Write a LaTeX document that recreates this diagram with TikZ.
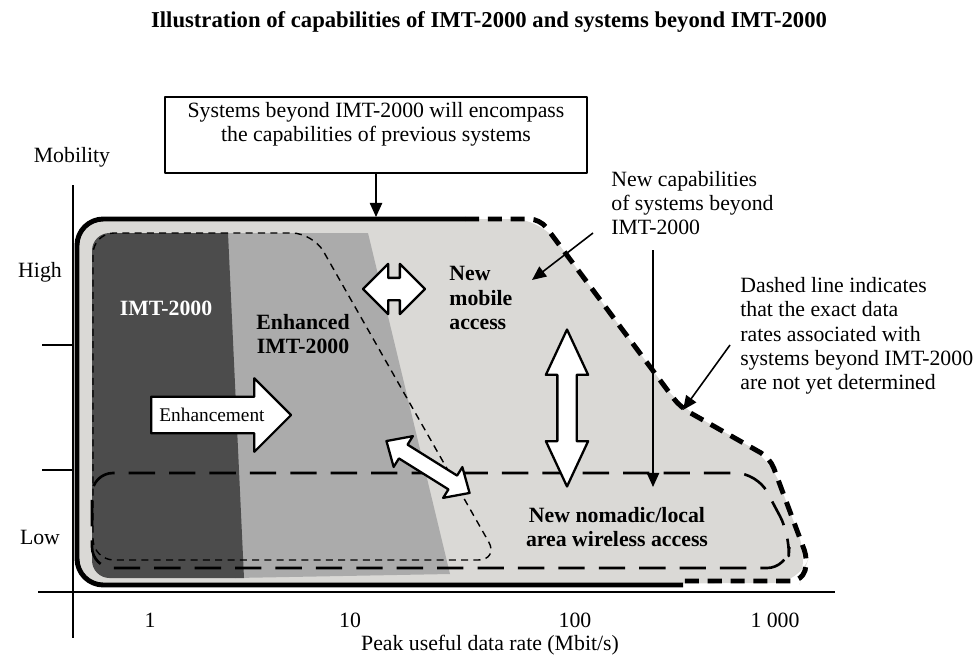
\documentclass[tikz,border=0pt]{standalone}
\usepackage{fontspec}
\setmainfont{Liberation Serif}
\usepackage{tikz}
\usetikzlibrary{arrows.meta,shapes.arrows}

\definecolor{darkzone}{HTML}{4C4C4C}
\definecolor{midzone}{HTML}{ABABAB}
\definecolor{lightzone}{HTML}{DAD9D6}

\begin{document}
\begin{tikzpicture}[x=0.02cm, y=-0.02cm, line join=round,
  lbl/.style={font=\fontsize{12.4}{13.8}\selectfont, inner sep=0pt},
  blbl/.style={font=\fontsize{12.4}{13.8}\selectfont\bfseries, inner sep=0pt},
  axis/.style={line width=1pt},
  outline/.style={line width=2.8pt},
  outdash/.style={line width=2.8pt, dash pattern=on 8pt off 5pt},
  thindash/.style={line width=0.8pt, dash pattern=on 4pt off 3pt},
  longdash/.style={line width=1.5pt, dash pattern=on 15pt off 8pt},
  pointer/.style={-{Triangle[length=8pt,width=7pt]}, line width=0.9pt},
  fatarrow/.style={draw, fill=white, line width=1.3pt}]

  \useasboundingbox (0,0) rectangle (979,656);

  % shaded zones
  \fill[lightzone, rounded corners=15] (77,219) -- (540,219) -- (680,407) -- (770,458) -- (808,560) -- (800,583) -- (77,585) -- cycle;
  \fill[midzone] (220,233) -- (368,233) -- (450,574) -- (235,578) -- cycle;
  \fill[darkzone] (228,233) [rounded corners=10] -- (92,233) -- (92,578) [sharp corners] -- (244,578) -- cycle;

  % capability outlines
  \draw[outline, rounded corners=15] (465,219) -- (77,219) -- (77,585) -- (683,585);
  \draw[outdash, rounded corners=6] (465,219) -- (540,219) -- (680,407) -- (770,458) -- (808,560) -- (802,581) -- (683,581);
  \draw[thindash, rounded corners=12] (200,233) -- (313,233) -- (499,560) -- (93,560) -- (93,233) -- cycle;
  \draw[longdash, rounded corners=12] (400,473) -- (757,473) -- (790,535) -- (788,568) -- (92,568) -- (92,473) -- cycle;

  % axes
  \draw[axis] (73,185) -- (73,638);
  \draw[axis] (38,592) -- (835,592);
  \draw[axis] (42,345) -- (73,345);
  \draw[axis] (42,470) -- (73,470);

  \node[font=\fontsize{12.9}{14}\selectfont\bfseries, inner sep=0pt] (title) at (489,22) {Illustration of capabilities of IMT-2000 and systems beyond IMT-2000};

  \node[draw, line width=1.2pt, minimum width=8.44cm, minimum height=1.52cm] (encompass) at (376,135) {};
  \node[lbl, align=center] (encompasstxt) at (376,124) {Systems beyond IMT-2000 will encompass\\the capabilities of previous systems};

  \node[lbl] (mobility) at (72,157) {Mobility};
  \node[lbl] (high)     at (40,272) {High};
  \node[lbl] (low)      at (40,537) {Low};
  \node[lbl] (r1)       at (150,620) {1};
  \node[lbl] (r10)      at (350,620) {10};
  \node[lbl] (r100)     at (575,620) {100};
  \node[lbl] (r1000)    at (775,620) {1 000};
  \node[lbl] (xlabel)   at (490,645) {Peak useful data rate (Mbit/s)};

  \node[blbl, text=white]           (imt)     at (166,308) {IMT-2000};
  \node[blbl, align=center]         (enh)     at (303,334) {Enhanced\\IMT-2000};
  \node[blbl, align=left, anchor=west] (mobile) at (449,298) {New\\mobile\\access};
  \node[blbl, align=center]         (nomadic) at (617,527) {New nomadic/local\\area wireless access};
  \node[lbl, align=left, anchor=west] (newcaps)  at (611,203) {New capabilities\\of systems beyond\\IMT-2000};
  \node[lbl, align=left, anchor=west] (dashnote) at (740,336) {Dashed line indicates\\that the exact data\\rates associated with\\systems beyond IMT-2000\\are not yet determined};

  \node[fatarrow, single arrow, anchor=tail, minimum height=2.8cm, single arrow head extend=0.37cm,
        inner xsep=1pt, inner ysep=6pt, text height=7.5pt, text depth=0pt,
        font=\fontsize{11}{12}\selectfont] (enhance) at (150,415) {Enhancement};
  \node[fatarrow, double arrow, minimum height=1.24cm, inner xsep=0pt, inner ysep=0.2cm,
        double arrow head extend=0.28cm] (mobarrow) at (394,289) {};
  \node[fatarrow, double arrow, rotate=90, minimum height=3.14cm, inner xsep=0pt, inner ysep=0.17cm,
        double arrow head extend=0.23cm, double arrow tip angle=50] (vertarrow) at (567,408) {};
  \node[fatarrow, double arrow, rotate=-32, minimum height=1.96cm, inner xsep=0pt, inner ysep=0.14cm,
        double arrow head extend=0.2cm, double arrow tip angle=85] (diagarrow) at (428,467) {};

  \coordinate (encompasstip) at (376,217);
  \coordinate (capsrc)  at (593,233);
  \coordinate (captip)  at (532,280);
  \coordinate (vertsrc) at (653,250);
  \coordinate (verttip) at (653,487);
  \coordinate (notesrc) at (730,345);
  \coordinate (notetip) at (683,410);

  \path[pointer] (encompass) edge (encompasstip)
                 (capsrc)    edge (captip)
                 (vertsrc)   edge (verttip)
                 (notesrc)   edge (notetip);

\end{tikzpicture}
\end{document}
